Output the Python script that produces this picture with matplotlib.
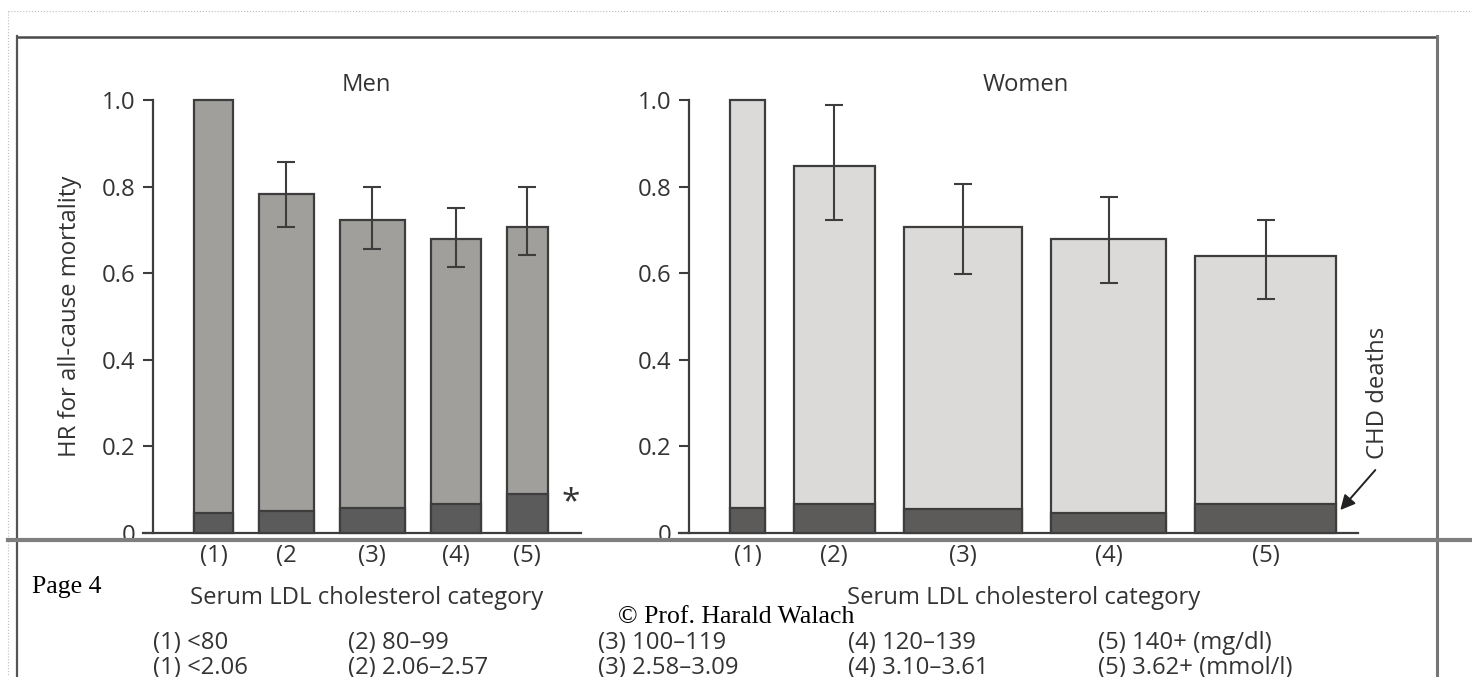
import numpy as np
import matplotlib
matplotlib.use("Agg")
import matplotlib.pyplot as plt
from matplotlib.lines import Line2D

# ---------------- data ----------------
men_labels = ["(1)", "(2", "(3)", "(4)", "(5)"]
women_labels = ["(1)", "(2)", "(3)", "(4)", "(5)"]

men_hr = [1.00, 0.783, 0.723, 0.679, 0.706]
men_ci_low = [np.nan, 0.706, 0.657, 0.615, 0.642]
men_ci_high = [np.nan, 0.857, 0.800, 0.750, 0.800]
men_chd = [0.047, 0.051, 0.057, 0.068, 0.090]
men_rel_width = [38.4, 55.0, 65.0, 50.0, 41.0]      # bar width ~ group size

women_hr = [1.00, 0.848, 0.706, 0.679, 0.640]
women_ci_low = [np.nan, 0.723, 0.598, 0.577, 0.540]
women_ci_high = [np.nan, 0.988, 0.805, 0.777, 0.723]
women_chd = [0.057, 0.068, 0.055, 0.047, 0.068]
women_rel_width = [34.3, 81.0, 118.4, 115.3, 141.0]

yticks = [0, 0.2, 0.4, 0.6, 0.8, 1.0]
ytick_labels = ["0", "0.2", "0.4", "0.6", "0.8", "1.0"]

legend_mgdl = ["(1) <80", "(2) 80–99", "(3) 100–119", "(4) 120–139", "(5) 140+ (mg/dl)"]
legend_mmol = ["(1) <2.06", "(2) 2.06–2.57", "(3) 2.58–3.09", "(4) 3.10–3.61", "(5) 3.62+ (mmol/l)"]

# ---------------- style ----------------
plt.rcParams["font.family"] = ["Open Sans", "DejaVu Sans"]
TXT = "#333333"
EDGE = "#3d3d3d"
FS = 17.2

W, H = 1472, 677
fig = plt.figure(figsize=(W / 100, H / 100), dpi=100)
fig.patch.set_facecolor("white")


def fx(px):
    return px / W


def fy(py):
    return 1 - py / H


def panel(left_px, right_px, labels, hr, lo, hi, chd, widths, gap, fill, dark):
    ax = fig.add_axes([fx(left_px), fy(533), (right_px - left_px) / W, 433 / H])
    ax.set_xlim(0, right_px - left_px)
    ax.set_ylim(0, 1.0)
    widths = np.array(widths)
    hr = np.array(hr)
    lo = np.array(lo)
    hi = np.array(hi)
    lefts = 51 + np.concatenate([[0], np.cumsum(widths[:-1] + gap)])
    centers = lefts + widths / 2
    ax.bar(lefts, hr, width=widths, align="edge", color=fill, edgecolor=EDGE,
           linewidth=1.6, clip_on=False, zorder=2)
    ax.bar(lefts, chd, width=widths, align="edge", color=dark, edgecolor=EDGE,
           linewidth=1.6, zorder=3)
    m = ~np.isnan(lo)
    ax.errorbar(centers[m], hr[m], yerr=[hr[m] - lo[m], hi[m] - hr[m]], fmt="none",
                ecolor=EDGE, elinewidth=1.5, capsize=6.5, capthick=1.5, zorder=4)
    for s in ["top", "right"]:
        ax.spines[s].set_visible(False)
    ax.spines["left"].set_position(("data", 10))
    ax.spines["left"].set_bounds(0, 1.0)
    for s in ["left", "bottom"]:
        ax.spines[s].set_color(EDGE)
        ax.spines[s].set_linewidth(1.6)
    ax.set_yticks(yticks)
    ax.set_yticklabels(ytick_labels)
    ax.set_xticks(centers)
    ax.set_xticklabels(labels)
    ax.tick_params(axis="y", direction="out", length=7.2, width=1.5, color=EDGE,
                   pad=5.5, labelsize=FS, labelcolor=TXT)
    ax.tick_params(axis="x", length=0, pad=8, labelsize=FS, labelcolor=TXT)
    ax.patch.set_alpha(0)
    return ax, lefts, widths


ax_m, lm, wm = panel(143.3, 580.7, men_labels, men_hr, men_ci_low, men_ci_high,
                     men_chd, men_rel_width, 26, "#a19f9c", "#5b5b5b")
ax_w, lw_, ww = panel(679.3, 1358.3, women_labels, women_hr, women_ci_low, women_ci_high,
                      women_chd, women_rel_width, 29, "#dcdad8", "#5c5b5a")

# star and arrow annotations
ax_m.text(lm[-1] + wm[-1] + 23, men_chd[-1] - 0.02, "*", ha="center", va="center",
          fontsize=24, color=TXT)
ax_w.annotate("", xy=(lw_[-1] + ww[-1] + 4, women_chd[-1] * 0.78),
              xytext=(35, 40), textcoords="offset pixels",
              arrowprops=dict(arrowstyle="-|>", color="#222222", lw=1.4,
                              mutation_scale=22, shrinkA=0, shrinkB=0))

# texts
fig.text(fx(366.7), fy(85), "Men", ha="center", va="center", fontsize=FS, color=TXT)
fig.text(fx(1026), fy(85), "Women", ha="center", va="center", fontsize=FS, color=TXT)
fig.text(fx(70), fy(316.5), "HR for all-cause mortality", rotation=90,
         ha="center", va="center", fontsize=FS, color=TXT)
fig.text(fx(1378), fy(393), "CHD deaths", rotation=90, ha="center", va="center",
         fontsize=FS, color=TXT)
fig.text(fx(366.7), fy(598), "Serum LDL cholesterol category", ha="center", va="center",
         fontsize=FS, color=TXT)
fig.text(fx(1024), fy(598), "Serum LDL cholesterol category", ha="center", va="center",
         fontsize=FS, color=TXT)

leg_x = [153.3, 348.3, 598.3, 848.3, 1098.3]
for x, t1, t2 in zip(leg_x, legend_mgdl, legend_mmol):
    fig.text(fx(x), fy(643), t1, ha="left", va="center", fontsize=FS, color=TXT)
    fig.text(fx(x), fy(668), t2, ha="left", va="center", fontsize=FS, color=TXT)

fig.text(fx(31.7), fy(592.7), "Page 4", ha="left", va="baseline",
         fontsize=18.5, family="Liberation Serif", color="black")
fig.text(fx(618.3), fy(622.7), "© Prof. Harald Walach", ha="left", va="baseline",
         fontsize=18.5, family="Liberation Serif", color="black", zorder=10)

# slide frame decorations
def fline(xs, ys, **kw):
    fig.add_artist(Line2D([fx(x) for x in xs], [fy(y) for y in ys],
                          transform=fig.transFigure, **kw))

fline([8, 1472], [11, 11], color="#bdbdbd", lw=0.8, ls=":")
fline([8, 8], [11, 677], color="#bdbdbd", lw=0.8, ls=":")
fline([16.7, 1437.3], [36.5, 36.5], color="#4a4a4a", lw=1.8)
fline([16.7, 16.7], [36, 677], color="#555555", lw=1.6)
fline([1437.3, 1437.3], [36, 677], color="#757575", lw=2.2)
fline([8, 1472], [540, 540], color="#7f7f7f", lw=3.0, zorder=20)

fig.savefig("out.png", dpi=100)
